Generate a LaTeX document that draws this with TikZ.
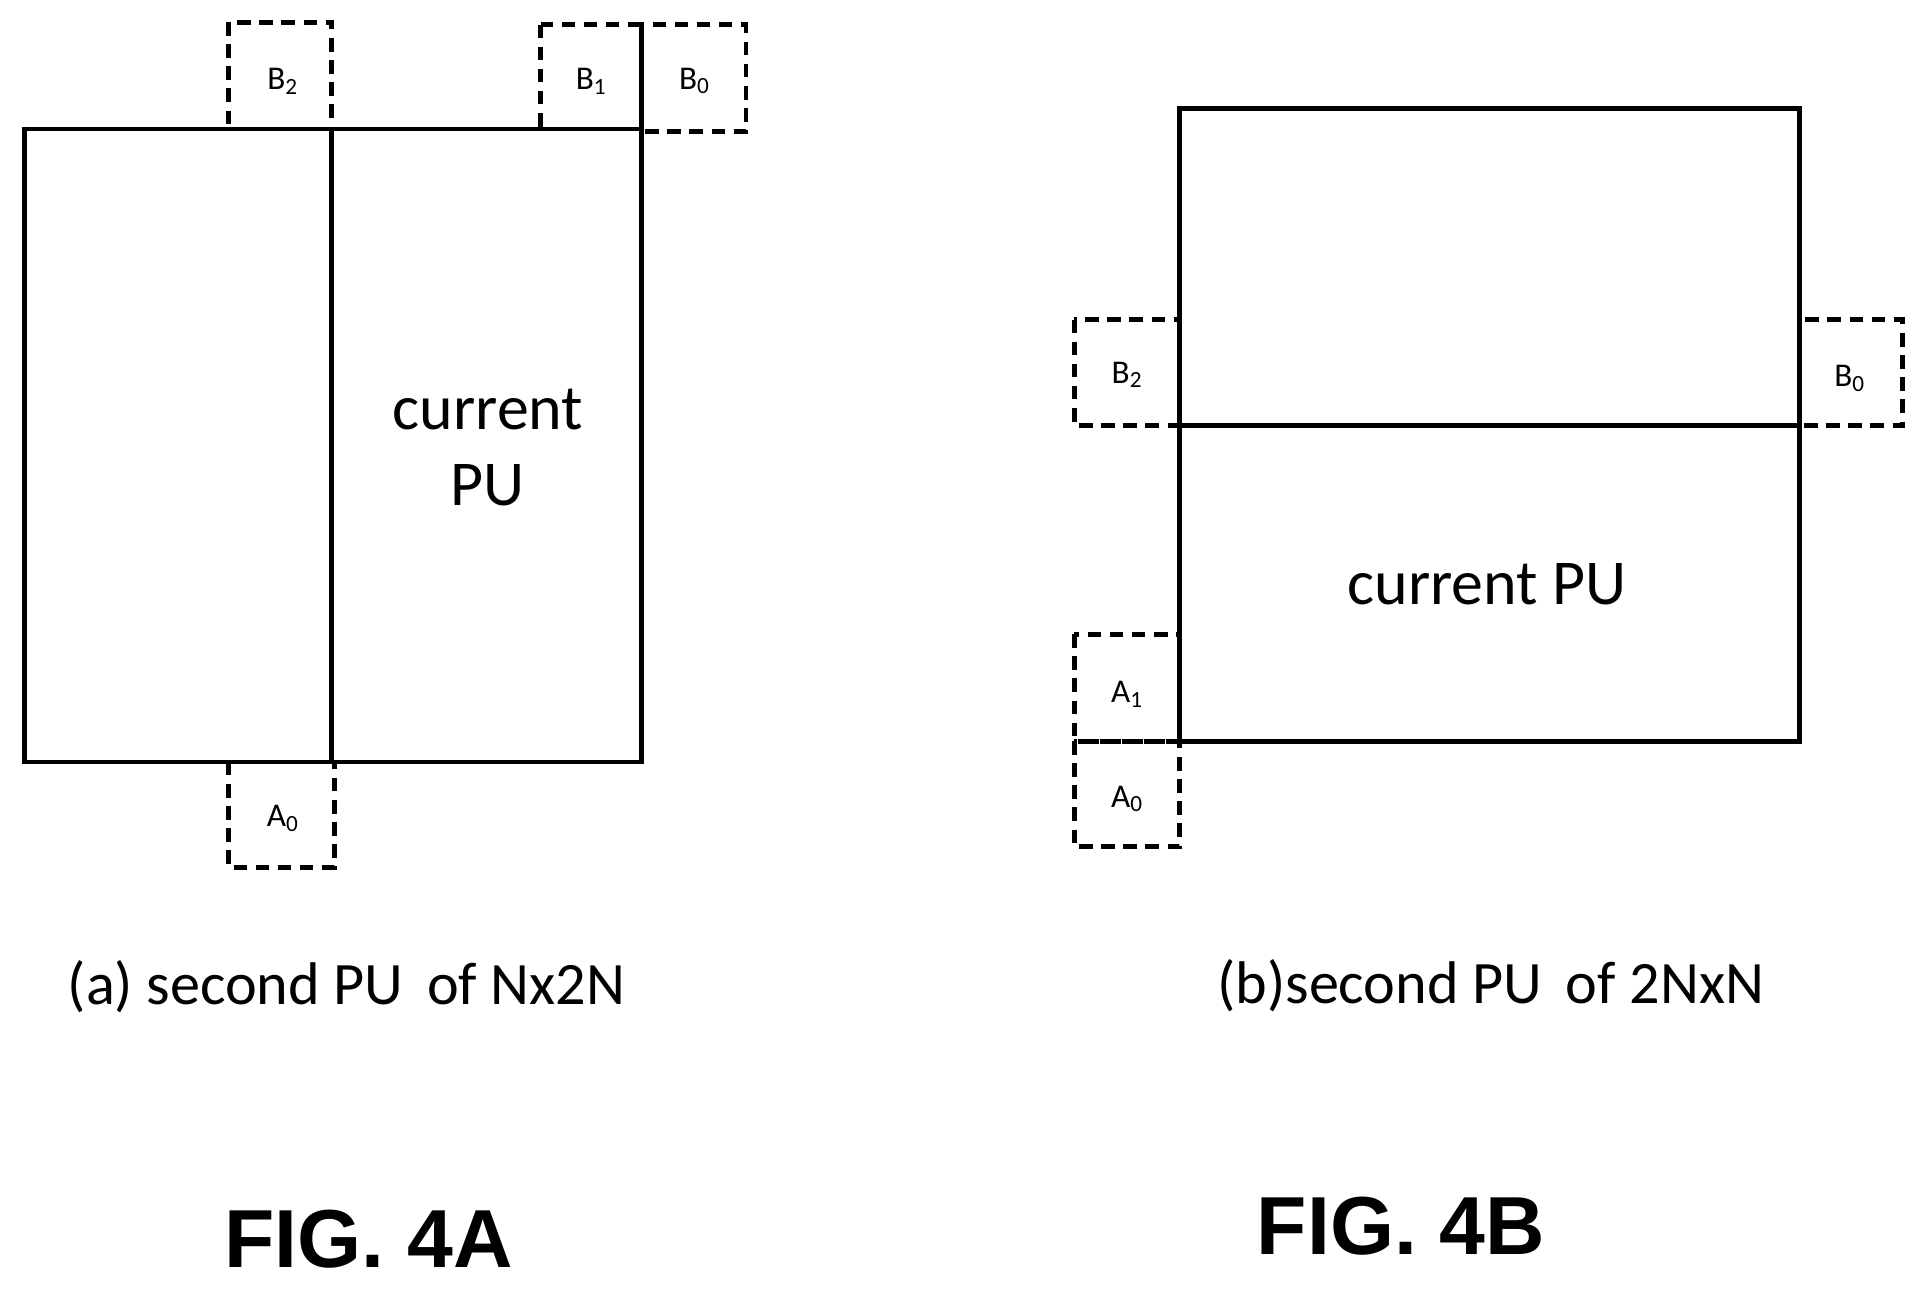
\documentclass[tikz,border=0pt]{standalone}
\usepackage{fontspec}
\setmainfont{Carlito}
\newfontfamily\figfont{Liberation Sans}
\newcommand{\sbs}[1]{\textsubscript{#1}}
\begin{document}
\begin{tikzpicture}[x=1pt,y=-1pt,
 solid box/.style={draw,line width=4pt},
 dbox/.style={draw,line width=4pt,dash pattern=on 11pt off 7pt},
 lab/.style={font=\fontsize{27}{30}\selectfont},
 big/.style={font=\fontsize{52}{62}\selectfont,align=center},
 captxt/.style={font=\fontsize{49}{56}\selectfont},
 fig/.style={font=\figfont\bfseries\fontsize{67}{76}\selectfont}]
\useasboundingbox (0,0) rectangle (1568,1049);
% left
\draw[dbox] (186,18) rectangle (270,105);
\draw[dbox] (440,20) rectangle (522,105);
\draw[dbox] (522,20) rectangle (607,107);
\draw[dbox] (186,620) rectangle (272,706);
\draw[solid box] (20,105) rectangle (522,620);
\draw[line width=4pt] (270,105) -- (270,620);
\node[lab] (lb2) at (230,66) {B\sbs{2}};
\node[lab] (lb1) at (481,66) {B\sbs{1}};
\node[lab] (lb0) at (565,66) {B\sbs{0}};
\node[lab] (la0) at (230,666) {A\sbs{0}};
\node[big] (lcur) at (397,364) {current\\PU};
\node[captxt] (lcap) at (282,803) {(a) second PU\, of Nx2N};
\node[fig] (lfig) at (300,1008) {FIG. 4A};
% right
\draw[dbox] (874,260) rectangle (960,346);
\draw[dbox] (1464,260) rectangle (1548,346);
\draw[dbox] (874,516) rectangle (960,603);
\draw[dbox] (874,603) rectangle (960,689);
\draw[solid box] (960,88) rectangle (1464,603);
\draw[line width=4pt] (960,346) -- (1464,346);
\node[lab] (rb2) at (917,305) {B\sbs{2}};
\node[lab] (rb0) at (1505,308) {B\sbs{0}};
\node[lab] (ra1) at (917,565) {A\sbs{1}};
\node[lab] (ra0) at (917,650) {A\sbs{0}};
\node[big] (rcur) at (1210,475) {current PU};
\node[captxt] (rcap) at (1213,802) {(b)second PU\, of 2NxN};
\node[fig] (rfig) at (1140,998) {FIG. 4B};
\end{tikzpicture}
\end{document}
